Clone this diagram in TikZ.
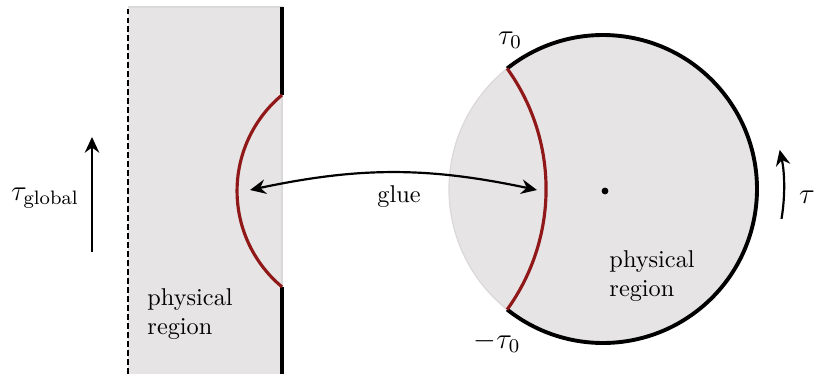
\documentclass[tikz,border=0pt]{standalone}
\usetikzlibrary{arrows.meta}
\definecolor{regiongrey}{RGB}{230,228,229}
\definecolor{regionedge}{RGB}{218,216,217}
\definecolor{gluered}{RGB}{145,24,24}
\begin{document}
\begin{tikzpicture}[x=0.4115pt,y=0.4115pt,
  bdry/.style={line width=1.6pt,black},
  cut/.style={line width=1.3pt,gluered},
  tip/.tip={Stealth[length=6.5pt,width=6pt,inset=2.2pt]},
  arr/.style={line width=0.9pt,-tip},
  darr/.style={line width=0.9pt,tip-tip},
  lbl/.style={font=\large,inner sep=0pt},
  txt/.style={align=left,inner sep=0pt,anchor=north west}]
\useasboundingbox (0,0) rectangle (815,374);
% left strip
\fill[regiongrey] (128,0) rectangle (282,367);
\draw[regionedge,line width=0.5pt] (128,367) -- (282,367) -- (282,0);
\draw[line width=0.9pt,dash pattern=on 2.4pt off 1.3pt] (128,0) -- (128,366);
\coordinate (LA) at (282,279);
\coordinate (LB) at (282,87);
\draw[bdry] (282,367.5) -- (LA);
\draw[bdry] (LB) -- (282,0);
\draw[cut] (LA) arc[start angle=129.8,end angle=230.2,radius=124.9];
% disc
\coordinate (C) at (603,185);
\path[fill=regiongrey,draw=regionedge,line width=0.5pt] (C) circle[radius=154];
\coordinate (T0) at ([shift={(128.5:154)}]C);
\draw[bdry] (T0) arc[start angle=128.5,end angle=-128.5,radius=154];
\draw[cut] (T0) arc[start angle=35.8,end angle=-35.8,radius=206.1];
\node[circle,fill=black,inner sep=0pt,minimum size=2.8pt] (ctr) at (605,183) {};
% arrows
\coordinate (GL) at (250,184);
\coordinate (GR) at (537,184);
\draw[darr] (GL) to[bend left=12] (GR);
\coordinate (UA) at (92,122);
\coordinate (UB) at (92,237);
\draw[arr] (UA) -- (UB);
\coordinate (TS) at ([shift={(-9.5:181)}]C);
\draw[arr] (TS) arc[start angle=-9.5,end angle=12.5,radius=181];
% labels
\node[lbl] (tglob) at (45,176) {$\tau_{\mathrm{global}}$};
\node[lbl] (tau) at (807,177) {$\tau$};
\node[lbl] (tau0) at (510,334) {$\tau_0$};
\node[lbl] (mtau0) at (497,32) {$-\tau_0$};
\node[inner sep=0pt] (glue) at (399,177) {glue};
\node[txt] (physL) at (147,86) {physical\\region};
\node[txt] (physR) at (609,124) {physical\\region};
\end{tikzpicture}
\end{document}
